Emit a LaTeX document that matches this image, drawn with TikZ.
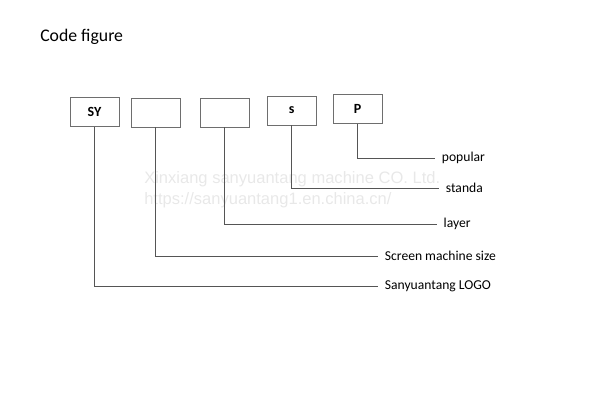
\documentclass[tikz,border=0pt]{standalone}
\usepackage{fontspec}
\setmainfont{Carlito}
\newfontfamily\wmfont{Liberation Sans}
\usepackage{xcolor}
\usepackage{tikz}
\definecolor{linha}{HTML}{555555}
\definecolor{borda}{HTML}{6E6E6E}
\definecolor{marca}{HTML}{E8E8E8}

\begin{document}
\begin{tikzpicture}[x=0.75pt, y=-0.75pt,
    caixa/.style={draw=borda, line width=0.6pt, minimum width=36.75pt, minimum height=21.75pt, inner sep=0pt, font=\fontsize{10.5}{12}\selectfont\bfseries},
    rotulo/.style={anchor=west, inner xsep=5pt, inner ysep=0pt, font=\fontsize{10.2}{12}\selectfont},
    fio/.style={linha, line width=0.6pt}]
  \useasboundingbox (0,0) rectangle (600,411);
  % watermark
  \node[marca, anchor=base west, inner sep=0pt, font=\fontsize{12.4}{14}\wmfont] (wm1) at (144,183) {Xinxiang sanyuantang machine CO. Ltd.};
  \node[marca, anchor=base west, inner sep=0pt, font=\fontsize{12.4}{14}\wmfont] (wm2) at (144,204) {https://sanyuantang1.en.china.cn/};
  % title
  \node[anchor=base west, inner sep=0pt, font=\fontsize{13.3}{15}\selectfont] (titulo) at (40,41) {Code figure};
  % code boxes
  \node[caixa] (sy) at (94.5,112) {SY};
  \node[caixa] (tam) at (155.5,112.5) {};
  \node[caixa] (cam) at (224.8,112.5) {};
  \node[caixa] (s) at (291.7,110.5) {s};
  \node[caixa] (p) at (357.7,109) {P};
  % meanings
  \node[rotulo] (popular) at (435,158.3) {popular};
  \node[rotulo] (standa) at (439,188.3) {standa};
  \node[rotulo] (layer) at (436.7,224.3) {layer};
  \node[rotulo] (size) at (378,256) {Screen machine size};
  \node[rotulo] (logo) at (378,286.7) {Sanyuantang LOGO};
  \draw[fio] (p.south) |- (popular.west);
  \draw[fio] (s.south) |- (standa.west);
  \draw[fio] (cam.south) |- (layer.west);
  \draw[fio] (tam.south) |- (size.west);
  \draw[fio] (sy.south) |- (logo.west);
\end{tikzpicture}
\end{document}
